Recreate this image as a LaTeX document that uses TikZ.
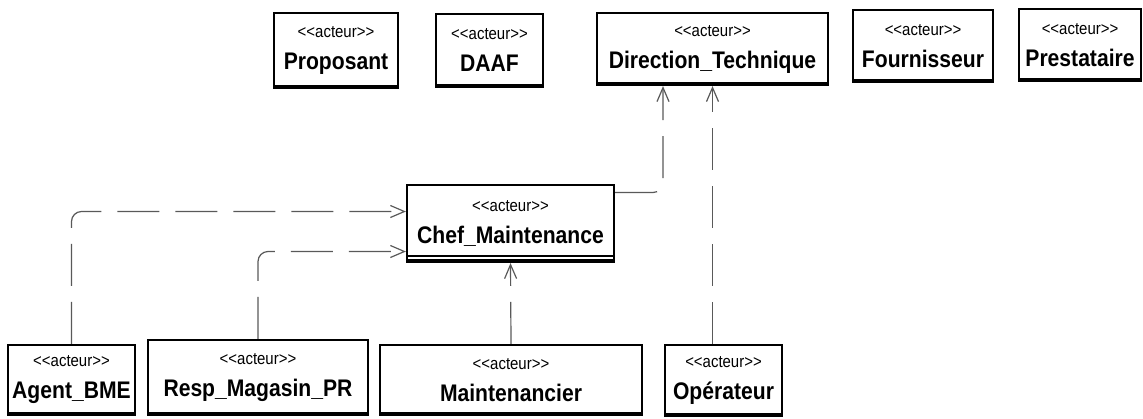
\documentclass[tikz,border=0pt]{standalone}
\usepackage{fontspec}
\setmainfont{Liberation Sans}[FakeStretch=0.88]
\usetikzlibrary{positioning,arrows.meta}

\newcommand{\stereo}{{\fontsize{8.5}{9}\selectfont\mdseries <\kern0pt<acteur>\kern0pt>}\\[2pt]}

\tikzset{
  actor/.style={draw,line width=1.1pt,fill=white,align=center,inner sep=1pt,
    font=\fontsize{12}{14}\selectfont\bfseries,
    path picture={\draw[line width=3pt] (path picture bounding box.south west) -- (path picture bounding box.south east);}},
  chefbox/.style={actor,
    path picture={\draw[line width=3pt] (path picture bounding box.south west) -- (path picture bounding box.south east);
      \draw[line width=1pt] ([yshift=3pt]path picture bounding box.south west) -- ([yshift=3pt]path picture bounding box.south east);}},
  dep/.style={draw=black!65,line width=0.6pt,dash pattern=on 21pt off 8pt,rounded corners=5pt,->},
  >={Straight Barb[length=7pt,width=6pt]}
}

\begin{document}
\begin{tikzpicture}[x=0.5pt,y=-0.5pt]
   \useasboundingbox (0,0) rectangle (1143,418);

   % acteurs du haut
   \node[actor,minimum width=62pt,minimum height=37.5pt] at (336,50.5) (proposant) {\stereo Proposant};
   \node[actor,minimum width=53.5pt,minimum height=36.5pt] at (489.5,50.5) (daaf) {\stereo DAAF};
   \node[actor,minimum width=115.5pt,minimum height=36pt] at (712.5,49) (dirtech) {\stereo Direction\_Technique};
   \node[actor,minimum width=70pt,minimum height=36pt] at (923,46) (fourn) {\stereo Fournisseur};
   \node[actor,minimum width=61pt,minimum height=36pt] at (1080,45) (prest) {\stereo Prestataire};

   \node[chefbox,minimum width=103.5pt,minimum height=38.5pt] at (510.5,223.5) (chef) {\stereo Chef\_Maintenance};

   % acteurs du bas
   \node[actor,minimum width=63.5pt,minimum height=35pt] at (71.5,380) (agent) {\stereo Agent\_BME};
   \node[actor,minimum width=110pt,minimum height=37.5pt] at (258,377.5) (resp) {\stereo Resp\_Magasin\_PR};
   \node[actor,minimum width=131pt,minimum height=35pt] at (511,380) (maint) {\stereo Maintenancier};
   \node[actor,minimum width=58.5pt,minimum height=35.5pt] at (723.5,380.5) (oper) {\stereo Opérateur};

   \draw[dep] (agent.north) |- ([yshift=6pt]chef.west);
   \draw[dep] (resp.north) |- ([yshift=-14pt]chef.west);
   \draw[dep] (maint.north) -- (chef.south);
   \draw[dep] ([yshift=15.5pt]chef.east) -| ([xshift=-24.75pt]dirtech.south);
   \draw[dep] (oper.north -| dirtech.south) -- (dirtech.south);
\end{tikzpicture}
\end{document}
